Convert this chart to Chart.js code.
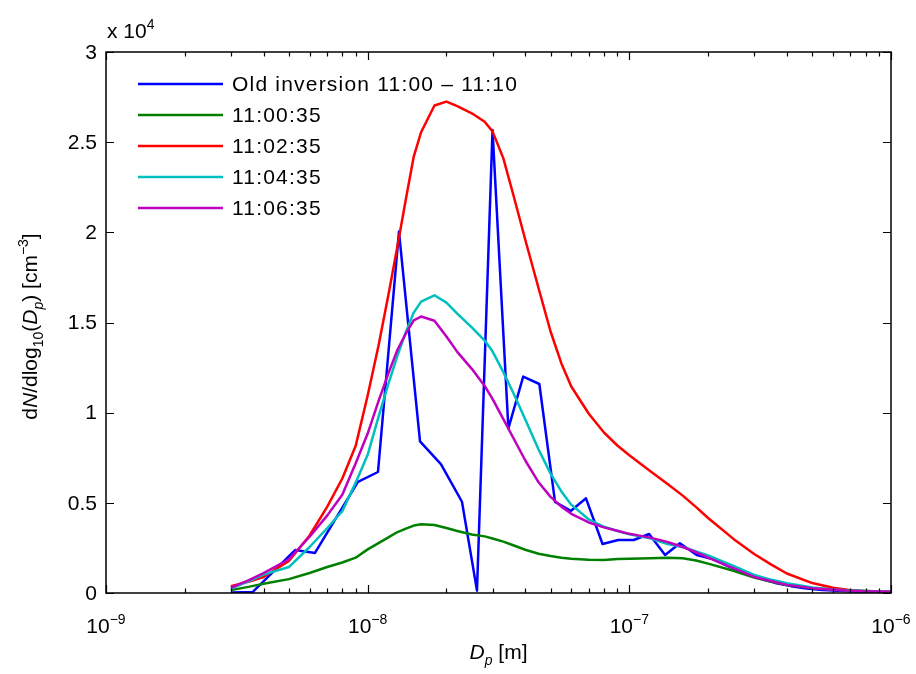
<!DOCTYPE html>
<html><head><meta charset="utf-8">
<script src="https://cdn.jsdelivr.net/npm/chart.js@4/dist/chart.umd.min.js"></script>
<style>html,body{margin:0;padding:0;background:#fff}#wrap{width:916px;height:674px}</style>
</head><body><div id="wrap"><canvas id="c" width="916" height="674"></canvas></div>
<script>
// ---- data (diameters in m, concentrations in cm^-3) ----
const gridDiameters = [3e-9,3.5e-9,4e-9,5e-9,6e-9,7e-9,8e-9,9e-9,1e-8,1.1e-8,1.2e-8,1.3e-8,1.4e-8,1.5e-8,1.6e-8,1.8e-8,2e-8,2.2e-8,2.5e-8,2.8e-8,3e-8,3.3e-8,3.6e-8,4e-8,4.5e-8,5e-8,5.5e-8,6e-8,7e-8,8e-8,9e-8,1e-7,1.2e-7,1.4e-7,1.6e-7,1.8e-7,2e-7,2.5e-7,3e-7,3.5e-7,4e-7,5e-7,6e-7,7e-7,8e-7,1e-6];
const series110035 = [160,340,510,770,1110,1440,1690,1960,2420,2770,3080,3380,3570,3740,3810,3770,3600,3440,3240,3140,3020,2850,2650,2400,2180,2050,1950,1900,1850,1830,1880,1900,1930,1950,1930,1800,1630,1230,860,620,440,280,190,140,110,70];
const series110235 = [380,620,890,1780,3190,4780,6350,8160,10950,13710,16530,19240,21850,24200,25550,27030,27250,27000,26600,26130,25600,24100,22100,19600,16900,14500,12730,11450,9940,8900,8180,7640,6770,6050,5400,4760,4160,3000,2160,1560,1080,550,290,160,90,50];
const series110435 = [250,650,1020,1440,2550,3590,4540,6120,7660,9770,11600,13160,14480,15550,16160,16510,16100,15490,14730,14000,13400,12250,11100,9630,7960,6620,5630,4900,4080,3670,3440,3260,3030,2720,2550,2310,2080,1500,1000,730,540,310,190,140,110,70];
const series110635 = [290,700,1100,1870,3120,4290,5450,7200,8840,10640,12180,13490,14400,15120,15330,15100,14220,13370,12430,11480,10760,9640,8610,7360,6140,5330,4790,4390,3910,3640,3450,3280,3070,2830,2550,2260,1960,1380,890,650,450,270,180,120,100,70];
const oldInvDiameters = [3.03e-9,3.64e-9,5.28e-9,6.29e-9,9.18e-9,1.095e-8,1.317e-8,1.585e-8,1.905e-8,2.293e-8,2.617e-8,3.0e-8,3.45e-8,3.93e-8,4.53e-8,5.2e-8,5.97e-8,6.83e-8,7.9e-8,9.07e-8,1.04e-7,1.19e-7,1.37e-7,1.56e-7,1.81e-7,2.08e-7,2.39e-7,2.74e-7,3.15e-7,3.61e-7,4.15e-7,4.76e-7,5.47e-7,6.28e-7,7.2e-7,8.27e-7,9.5e-7];
const oldInvValues = [30,60,2380,2220,6160,6710,20040,8410,7150,5060,130,25680,9130,12000,11590,5050,4550,5250,2720,2940,2940,3270,2110,2760,2110,1880,1480,1130,800,560,380,250,170,120,90,70,60];
const seriesLabels = ['Old inversion 11:00 \u2013 11:10','11:00:35','11:02:35','11:04:35','11:06:35'];
const seriesColors = ['#0000ff','#008000','#ff0000','#00bfbf','#bf00bf'];
const yTickValues = [0,5000,10000,15000,20000,25000,30000];
const yTickLabels = ['0','0.5','1','1.5','2','2.5','3'];
const xDecades = [1e-9,1e-8,1e-7,1e-6];
const xDecadeExponents = ['\u22129','\u22128','\u22127','\u22126'];
const minorMultipliers = [2,3,4,5,6,7,8,9];

const FONT = '"Liberation Sans", Arial, Helvetica, sans-serif';
const f = (s, it) => (it ? 'italic ' : '') + s + 'px ' + FONT;

function pairs(xs, ys){ return xs.map((x,i)=>({x:x, y:ys[i]})); }

function richWidth(ctx, parts){
  let w=0;
  for (const p of parts){ ctx.font = f(p.mode==='n'?21:14, p.it); w += ctx.measureText(p.t).width; }
  return w;
}
function drawRich(ctx, parts, x, y){
  let cx = x;
  for (const p of parts){
    ctx.font = f(p.mode==='n'?21:14, p.it);
    const dy = p.mode==='sub'?6:(p.mode==='sup'?-9:0);
    ctx.fillText(p.t, cx, y+dy);
    cx += ctx.measureText(p.t).width;
  }
}

const axesPlugin = {
  id:'matlabAxes',
  afterDraw(chart){
    const ctx = chart.ctx, a = chart.chartArea, xs = chart.scales.x, ys = chart.scales.y;
    ctx.save();
    ctx.strokeStyle = '#000'; ctx.fillStyle = '#000';
    ctx.lineWidth = 1.2;
    ctx.beginPath();
    xDecades.forEach((d,i)=>{
      const px = Math.round(xs.getPixelForValue(d))+0.5;
      ctx.moveTo(px,a.bottom); ctx.lineTo(px,a.bottom-8);
      ctx.moveTo(px,a.top); ctx.lineTo(px,a.top+8);
      if (i < xDecades.length-1){
        minorMultipliers.forEach(m=>{
          const qx = Math.round(xs.getPixelForValue(d*m))+0.5;
          ctx.moveTo(qx,a.bottom); ctx.lineTo(qx,a.bottom-4.5);
          ctx.moveTo(qx,a.top); ctx.lineTo(qx,a.top+4.5);
        });
      }
    });
    yTickValues.forEach(v=>{
      const py = Math.round(ys.getPixelForValue(v))+0.5;
      ctx.moveTo(a.left,py); ctx.lineTo(a.left+8,py);
      ctx.moveTo(a.right,py); ctx.lineTo(a.right-8,py);
    });
    ctx.stroke();
    ctx.lineWidth = 1.5;
    ctx.strokeRect(a.left, a.top, a.right-a.left, a.bottom-a.top);
    ctx.font = f(21); ctx.textAlign = 'right'; ctx.textBaseline = 'middle';
    yTickValues.forEach((v,i)=>{ ctx.fillText(yTickLabels[i], a.left-9, ys.getPixelForValue(v)+1); });
    ctx.textAlign = 'left'; ctx.textBaseline = 'alphabetic';
    xDecades.forEach((d,i)=>{
      const parts = [{t:'10',mode:'n'},{t:xDecadeExponents[i],mode:'sup'}];
      const w = richWidth(ctx, parts);
      const px = xs.getPixelForValue(d);
      drawRich(ctx, parts, px - w/2, 633);
    });
    drawRich(ctx, [{t:'x 10',mode:'n'},{t:'4',mode:'sup'}], a.left+1, 38);
    const xt = [{t:'D',it:true,mode:'n'},{t:'p',it:true,mode:'sub'},{t:' [m]',mode:'n'}];
    const xw = richWidth(ctx, xt);
    drawRich(ctx, xt, (a.left+a.right)/2 - xw/2, 659);
    const yt = [{t:'d',mode:'n'},{t:'N',it:true,mode:'n'},{t:'/dlog',mode:'n'},{t:'10',mode:'sub'},{t:'(',mode:'n'},{t:'D',it:true,mode:'n'},{t:'p',it:true,mode:'sub'},{t:') [cm',mode:'n'},{t:'\u22123',mode:'sup'},{t:']',mode:'n'}];
    const yw = richWidth(ctx, yt);
    ctx.save();
    ctx.translate(37, (a.top+a.bottom)/2 + 4);
    ctx.rotate(-Math.PI/2);
    drawRich(ctx, yt, -yw/2, 0);
    ctx.restore();
    ctx.textBaseline = 'middle';
    seriesLabels.forEach((lab,i)=>{
      const y = 84 + i*31;
      ctx.strokeStyle = seriesColors[i]; ctx.lineWidth = 2.5;
      ctx.beginPath(); ctx.moveTo(138,y); ctx.lineTo(223,y); ctx.stroke();
      ctx.font = f(21);
      try { ctx.letterSpacing = '1.2px'; } catch(e){}
      ctx.fillStyle = '#000';
      ctx.fillText(lab, 232, y+1);
      try { ctx.letterSpacing = '0px'; } catch(e){}
    });
    ctx.restore();
  }
};

const datasets = [
  {label:seriesLabels[0], data:pairs(oldInvDiameters, oldInvValues), borderColor:seriesColors[0], order:5},
  {label:seriesLabels[1], data:pairs(gridDiameters, series110035), borderColor:seriesColors[1], order:4},
  {label:seriesLabels[2], data:pairs(gridDiameters, series110235), borderColor:seriesColors[2], order:3},
  {label:seriesLabels[3], data:pairs(gridDiameters, series110435), borderColor:seriesColors[3], order:2},
  {label:seriesLabels[4], data:pairs(gridDiameters, series110635), borderColor:seriesColors[4], order:1}
].map(d=>Object.assign({borderWidth:2.5, pointRadius:0, fill:false, tension:0, borderJoinStyle:'round'}, d));

new Chart(document.getElementById('c'), {
  type:'line',
  data:{datasets:datasets},
  options:{
    responsive:false, animation:false, devicePixelRatio:1,
    layout:{padding:{left:106, right:25, top:52, bottom:81}},
    plugins:{legend:{display:false}, tooltip:{enabled:false}, title:{display:false}},
    scales:{
      x:{type:'logarithmic', min:1e-9, max:1e-6, display:false},
      y:{type:'linear', min:0, max:30000, display:false}
    }
  },
  plugins:[axesPlugin]
});
</script></body></html>
